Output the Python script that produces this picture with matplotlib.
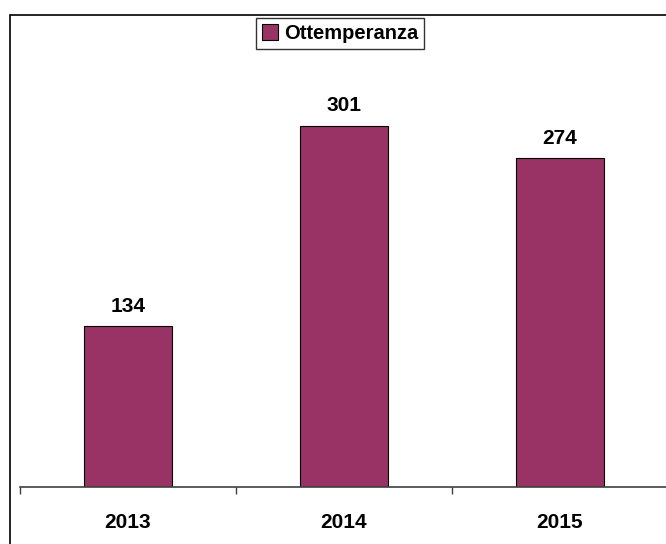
import matplotlib
matplotlib.use("Agg")
import matplotlib.pyplot as plt
from matplotlib.patches import Rectangle
from matplotlib.lines import Line2D

years = ["2013", "2014", "2015"]
values = [134, 301, 274]
series_name = "Ottemperanza"

W, H = 666, 544
dpi = 100
bar_color = "#993366"

plt.rcParams["font.family"] = ["Liberation Sans", "DejaVu Sans"]
plt.rcParams["font.weight"] = "bold"

fig = plt.figure(figsize=(W / dpi, H / dpi), dpi=dpi, facecolor="white")

# plot area in pixels: x 20..668, baseline at y=487, 1.2 px per unit
ymax = 350
left, right = 20, 668
base = 487
top = base - ymax * 1.2
ax = fig.add_axes([left / W, (H - base) / H, (right - left) / W, (base - top) / H])
ax.set_facecolor("none")

x = list(range(len(years)))
bars = ax.bar(x, values, width=0.41, color=bar_color, edgecolor="black", linewidth=0.8)
ax.set_xlim(-0.5, len(years) - 0.5)
ax.set_ylim(0, ymax)

for xi, v in zip(x, values):
    ax.annotate(str(v), (xi, v), xytext=(0, 14.5), textcoords="offset points",
                ha="center", va="center", fontsize=15, fontweight="bold")

for s in ["top", "right", "left"]:
    ax.spines[s].set_visible(False)
ax.spines["bottom"].set_color("#404040")
ax.spines["bottom"].set_linewidth(1.2)
ax.set_yticks([])

# ticks on category boundaries, labels at centres
ax.set_xticks([i - 0.5 for i in range(len(years) + 1)])
ax.set_xticklabels([])
ax.tick_params(axis="x", which="major", direction="out", length=5, width=1, color="#404040")
for xi, lab in zip(x, years):
    ax.annotate(lab, (xi, 0), xytext=(0, -25.5), textcoords="offset points",
                ha="center", va="center", fontsize=15, fontweight="bold",
                annotation_clip=False)

# legend
handle = Line2D([], [], marker="s", linestyle="none", markersize=11,
                markerfacecolor=bar_color, markeredgecolor="black", markeredgewidth=0.8)
leg = fig.legend([handle], [series_name], loc="upper center",
                 bbox_to_anchor=(340 / W, 1 - 18 / H), frameon=True, fancybox=False,
                 edgecolor="black", prop={"size": 14.5, "weight": "bold"},
                 handlelength=0.8, handletextpad=0.3, borderpad=0.3, borderaxespad=0)
leg.get_frame().set_linewidth(1.0)

# outer chart border (runs off the right and bottom edges)
fig.patches.append(Rectangle((9.5 / W, -0.1), 1.2, 1.1 - 15 / H, transform=fig.transFigure,
                             fill=False, edgecolor="black", linewidth=1.2))

fig.savefig("out.png", dpi=dpi, facecolor="white")
